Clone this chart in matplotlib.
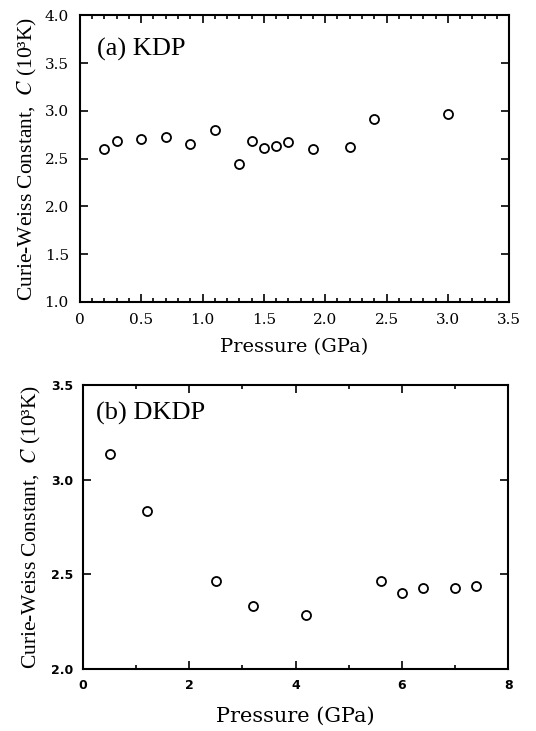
import matplotlib
matplotlib.use("Agg")
import matplotlib.pyplot as plt
from matplotlib.ticker import MultipleLocator, FormatStrFormatter, FuncFormatter

plt.rcParams['mathtext.fontset'] = 'stix'

# Data
kdp_p = [0.2, 0.3, 0.5, 0.7, 0.9, 1.1, 1.3, 1.4, 1.5, 1.6, 1.7, 1.9, 2.2, 2.4, 3.0]
kdp_c = [2.60, 2.68, 2.71, 2.73, 2.65, 2.80, 2.44, 2.68, 2.61, 2.63, 2.67, 2.60, 2.62, 2.91, 2.97]

dkdp_p = [0.5, 1.2, 2.5, 3.2, 4.2, 5.6, 6.0, 6.4, 7.0, 7.4]
dkdp_c = [3.136, 2.836, 2.464, 2.33, 2.286, 2.464, 2.40, 2.43, 2.43, 2.44]

ylabel = "Curie-Weiss Constant,  $C$ (10³K)"
xlabel = "Pressure (GPa)"

fig = plt.figure(figsize=(5.36, 7.31), dpi=100)
ax1 = fig.add_axes([0.149, 0.587, 0.801, 0.392])
ax2 = fig.add_axes([0.155, 0.085, 0.793, 0.388])

serif = "Liberation Serif"

mk = dict(marker='o', linestyle='none', markersize=6.5, markerfacecolor='white',
          markeredgecolor='black', markeredgewidth=1.3)

ax1.plot(kdp_p, kdp_c, **mk)
ax1.set_xlim(0, 3.5)
ax1.set_ylim(1.0, 4.0)
ax1.xaxis.set_major_locator(MultipleLocator(0.5))
ax1.xaxis.set_minor_locator(MultipleLocator(0.1))
ax1.yaxis.set_major_locator(MultipleLocator(0.5))
ax1.xaxis.set_major_formatter(FuncFormatter(lambda v, p: "0" if abs(v) < 1e-9 else f"{v:.1f}"))
ax1.yaxis.set_major_formatter(FormatStrFormatter("%.1f"))
ax1.tick_params(which='both', direction='in', top=True, right=True, width=1.2)
ax1.tick_params(which='major', length=6, pad=8)
ax1.tick_params(which='minor', length=3)
for lab in ax1.get_xticklabels() + ax1.get_yticklabels():
    lab.set_fontfamily("DejaVu Serif")
    lab.set_fontsize(11)
ax1.set_xlabel(xlabel, fontsize=14, fontfamily="DejaVu Serif", labelpad=8)
ax1.set_ylabel(ylabel, fontsize=15.5, fontfamily=serif, labelpad=4)
ax1.text(0.04, 0.88, "(a) KDP", transform=ax1.transAxes, fontsize=19, fontfamily=serif,
         va='center', ha='left')

ax2.plot(dkdp_p, dkdp_c, **mk)
ax2.set_xlim(0, 8)
ax2.set_ylim(2.0, 3.5)
ax2.xaxis.set_major_locator(MultipleLocator(2))
ax2.xaxis.set_minor_locator(MultipleLocator(1))
ax2.yaxis.set_major_locator(MultipleLocator(0.5))
ax2.yaxis.set_major_formatter(FormatStrFormatter("%.1f"))
ax2.tick_params(which='both', direction='in', top=True, right=True, width=1.2)
ax2.tick_params(which='major', length=6, pad=7)
ax2.tick_params(which='minor', length=3)
for lab in ax2.get_xticklabels() + ax2.get_yticklabels():
    lab.set_fontfamily("DejaVu Sans")
    lab.set_fontweight("bold")
    lab.set_fontsize(9)
ax2.set_xlabel(xlabel, fontsize=15, fontfamily="DejaVu Serif", labelpad=11)
ax2.set_ylabel(ylabel, fontsize=15.5, fontfamily=serif, labelpad=6)
ax2.text(0.03, 0.9, "(b) DKDP", transform=ax2.transAxes, fontsize=19, fontfamily=serif,
         va='center', ha='left')

for ax in (ax1, ax2):
    for s in ax.spines.values():
        s.set_linewidth(1.5)

fig.savefig("out.png", dpi=100)
